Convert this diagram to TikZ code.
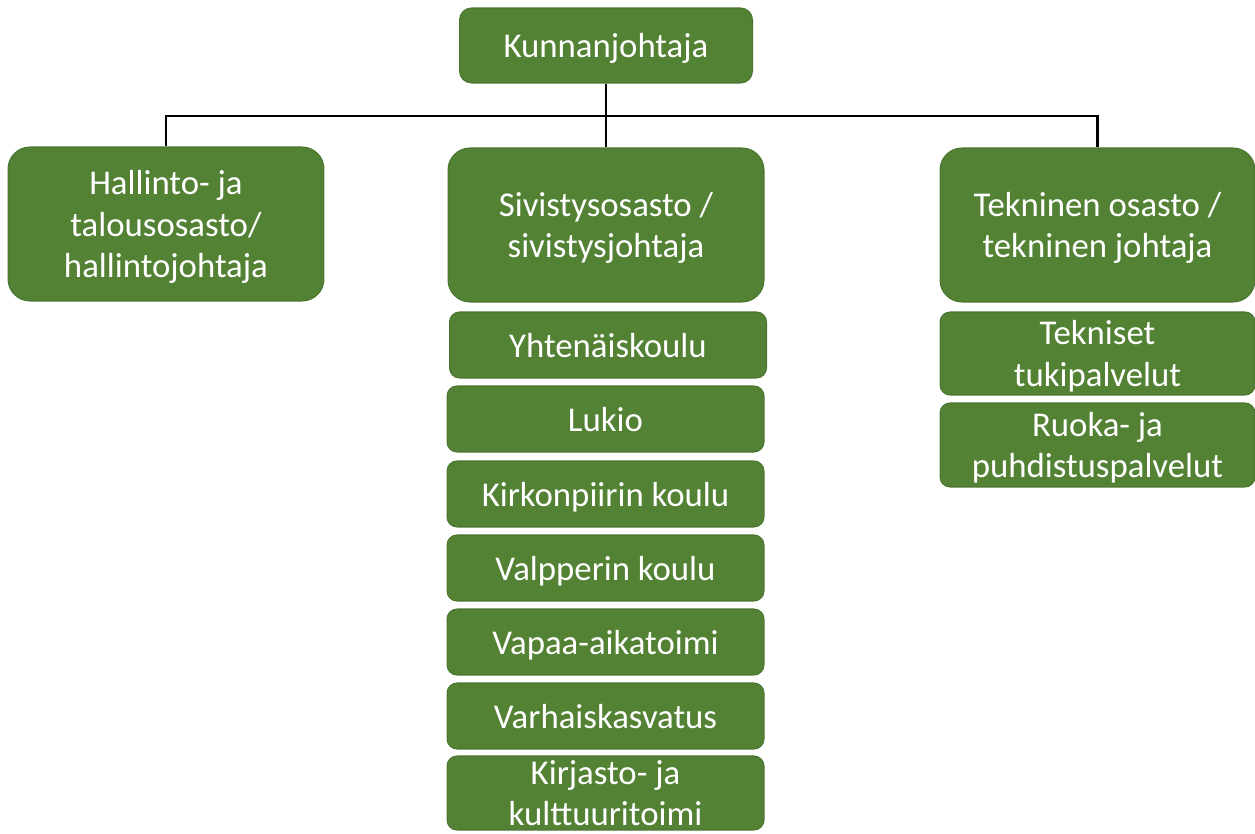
\documentclass[tikz,border=0pt]{standalone}
\usepackage{fontspec}
\setmainfont{Carlito}
\usepackage{xcolor}
\usetikzlibrary{positioning,calc}
\definecolor{leaf}{HTML}{548235}
\definecolor{leafedge}{HTML}{4A7530}
\tikzset{
  font=\fontsize{19.8}{23.8}\selectfont,
  unit/.style={
    draw=leafedge, line width=0.6pt, fill=leaf, text=white, align=center,
    inner sep=0pt, minimum width=6.32cm, text depth=0pt
  },
  headbox/.style={unit, rounded corners=0.24cm, minimum width=5.86cm, minimum height=1.5cm},
  deptbox/.style={unit, rounded corners=0.44cm, minimum height=3.08cm},
  subbox/.style={unit, rounded corners=0.2cm, minimum width=6.34cm, minimum height=1.32cm},
  wire/.style={line width=1.2pt, draw=black}
}

\begin{document}
\begin{tikzpicture}[x=0.02cm,y=-0.02cm]
  \useasboundingbox (0,0) rectangle (1255,834);

  \node[headbox] (head) at (606,45.5) {Kunnanjohtaja};

  % departments
  \node[deptbox] (hal) at (166,224)    {Hallinto- ja\\talousosasto/\\hallintojohtaja};
  \node[deptbox] (siv) at (606,225)    {Sivistysosasto /\\sivistysjohtaja};
  \node[deptbox, minimum width=6.3cm] (tek) at (1097.5,225) {Tekninen osasto /\\tekninen johtaja};

  % sivistys units
  \node[subbox] (yht) at (608,345)   {Yhtenäiskoulu};
  \node[subbox] (luk) at (605.5,419) {Lukio};
  \node[subbox] (kir) at (605.5,494) {Kirkonpiirin koulu};
  \node[subbox] (val) at (605.5,568) {Valpperin koulu};
  \node[subbox] (vap) at (605.5,642) {Vapaa-aikatoimi};
  \node[subbox] (var) at (605.5,716) {Varhaiskasvatus};
  \node[subbox, minimum height=1.48cm] (kul) at (605.5,793) {Kirjasto- ja\\kulttuuritoimi};

  % tekninen units
  \node[subbox, minimum width=6.3cm, minimum height=1.66cm] (tuk) at (1097.5,353.5) {Tekniset\\tukipalvelut};
  \node[subbox, minimum width=6.3cm, minimum height=1.68cm] (ruo) at (1097.5,445)   {Ruoka- ja\\puhdistuspalvelut};

  \coordinate (bus) at (606,116);
  \draw[wire] (head.south) -- (bus);
  \draw[wire] (bus) -| (hal.north);
  \draw[wire] (bus) -| (tek.north);
  \draw[wire] (bus) -- (siv.north);
\end{tikzpicture}
\end{document}
